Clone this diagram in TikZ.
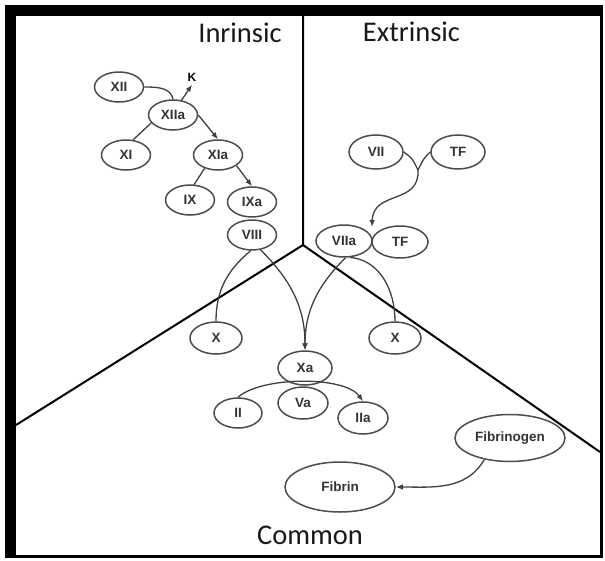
\documentclass[tikz,border=0pt]{standalone}
\usepackage{fontspec}
\setmainfont{Carlito}
\newfontfamily\nodefont{Liberation Sans}
\usetikzlibrary{shapes.geometric,arrows.meta}
\begin{document}
\begin{tikzpicture}[x=1pt,y=-1pt,
  fac/.style={ellipse,draw=black!70,line width=1.5pt,inner sep=0pt,minimum width=49pt,minimum height=30pt,
    font=\nodefont\bfseries\fontsize{13.5}{13.5}\selectfont,text=black!80},
  big/.style={fac,minimum width=54pt,minimum height=34pt},
  huge/.style={fac,minimum width=110pt,minimum height=47pt},
  con/.style={draw=black!75,line width=1.3pt},
  arr/.style={con,-{Latex[length=7pt,width=5.5pt]}},
  divider/.style={line width=2pt,black},
  region/.style={font=\fontsize{28.5}{28.5}\selectfont,anchor=base,text=black!90}]
\useasboundingbox (0,0) rectangle (605,560);
\fill[black] (5,5) rectangle (603,558);
\fill[white] (16,16) rectangle (600,555);
% dividers
\coordinate (c) at (303,245);
\coordinate (top) at (303,16);
\coordinate (lft) at (16,425);
\coordinate (rgt) at (600,452);
\draw[divider] (top) -- (c) -- (lft);
\draw[divider] (c) -- (rgt);
% region labels
\node[region] (intr) at (240,42) {Inrinsic};
\node[region] (extr) at (411.5,41) {Extrinsic};
\node[region] (comm) at (310,544) {Common};
% intrinsic
\node[fac] (xii) at (119,87) {XII};
\node[fac] (xiia) at (173,115) {XIIa};
\node[fac] (xi) at (126,155) {XI};
\node[fac] (xia) at (218,155) {XIa};
\node[fac] (ix) at (190,200) {IX};
\node[fac] (ixa) at (252,202) {IXa};
\node[fac] (viii) at (252,235) {VIII};
\node[font=\nodefont\bfseries\fontsize{12}{12}\selectfont] (k) at (192,77) {K};
% extrinsic
\node[big] (vii) at (376,152) {VII};
\node[big] (tf1) at (458,152) {TF};
\node[big,minimum width=56pt,minimum height=32pt] (viia) at (344,241) {VIIa};
\node[big,minimum width=56pt,minimum height=32pt] (tf2) at (400,242) {TF};
% common
\node[fac,minimum width=52pt,minimum height=32pt] (x1) at (216,338) {X};
\node[fac,minimum width=52pt,minimum height=32pt] (x2) at (395,338) {X};
\node[big] (xa) at (305,368) {Xa};
\node[fac,minimum width=48pt,minimum height=30pt] (ii) at (238,413) {II};
\node[fac,minimum width=50pt,minimum height=32pt] (va) at (303,403) {Va};
\node[fac,minimum width=50pt,minimum height=32pt] (iia) at (363,418) {IIa};
\node[huge] (fbg) at (510,438) {Fibrinogen};
\node[huge,minimum height=50pt] (fb) at (340,487) {Fibrin};
% connectors intrinsic
\draw[con] (xii.east) to[out=0,in=100] (xiia.north);
\draw[arr] (xiia.60) -- (k.south);
\draw[con] (xiia.200) -- (xi.65);
\draw[arr] (xiia.east) -- (xia.north);
\draw[con] (xia.225) -- (ix.75);
\draw[arr] (xia.330) -- (ixa.north);
\draw[con] (viii.265) to[out=220,in=90] (x1.north);
\draw[arr] (viii.300) to[out=-45,in=90] (xa.north);
% connectors extrinsic
\coordinate (j) at (418,170);
\coordinate (vt) at (372,227);
\draw[con] (vii.east) .. controls (412,158) .. (j);
\draw[con] (tf1.west) .. controls (424,158) .. (j);
\draw[arr] (j) .. controls (420,205) and (373,190) .. (vt);
\draw[arr] (viia.275) to[out=225,in=90] (xa.north);
\draw[con] (viia.290) to[out=-5,in=90] (x2.north);
% common
\draw[arr] (ii.north) .. controls (262,376) and (345,376) .. (iia.north);
\draw[arr] (fbg.220) to[out=240,in=0] (fb.east);
\end{tikzpicture}
\end{document}
